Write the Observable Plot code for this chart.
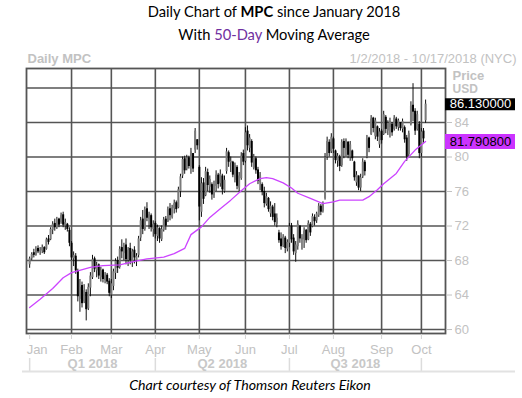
<!DOCTYPE html>
<html><head><meta charset="utf-8">
<script src="https://cdn.jsdelivr.net/npm/d3@7"></script>
<script src="https://cdn.jsdelivr.net/npm/@observablehq/plot@0.6"></script>
<style>
body{margin:0;background:#fff;width:522px;height:398px;overflow:hidden}
.title{font-family:Lato,"Open Sans",sans-serif;font-size:14.7px;color:#000;text-align:center;line-height:23px;height:46px;padding-left:26px;box-sizing:border-box;width:522px}
.caption{font-family:Lato,"Open Sans",sans-serif;font-style:italic;font-size:14.2px;text-align:center;line-height:18px;color:#000;padding-right:22px;box-sizing:border-box;width:522px}
#chart svg{display:block;font-family:"Liberation Sans",Arial,sans-serif !important}
</style></head><body>
<div class="title"><div>Daily Chart of <b>MPC</b> since January 2018</div><div>With <span style="color:#7030a0">50-Day</span> Moving Average</div></div>
<div id="chart"></div>
<div class="caption">Chart courtesy of Thomson Reuters Eikon</div>
<script>
// Trading-day OHLC (index 0 = 2 Jan 2018)
const open = [
67.5,68.2,68.9,68.6,69.4,69.0,69.1,69.5,69.3,70.5,
70.4,71.5,72.3,71.8,72.8,72.4,73.3,72.0,72.2,71.5,
70.0,68.2,68.5,66.8,63.5,65.1,63.2,64.3,62.4,64.8,
66.0,68.2,66.8,67.5,66.0,66.9,65.7,66.3,65.6,64.0,
65.0,66.5,68.0,67.2,69.5,68.8,69.8,68.0,69.4,67.8,
69.2,68.0,68.6,70.6,72.8,71.6,74.0,72.8,73.2,71.6,
72.3,70.8,71.7,70.4,71.5,72.8,72.5,74.0,73.0,74.0,
74.7,74.1,76.0,77.8,79.8,78.6,79.9,78.8,80.4,80.8,
82.0,78.8,73.6,77.0,75.5,78.2,76.5,76.8,75.5,76.6,
77.9,76.9,77.8,76.0,78.3,80.5,79.3,79.4,77.3,78.8,
76.4,77.5,80.4,79.5,83.0,81.0,81.8,78.7,79.8,78.5,
77.0,76.8,76.0,74.5,75.2,73.4,74.2,73.4,72.2,71.2,
70.5,69.7,70.6,69.3,70.0,72.0,70.6,68.8,69.6,72.0,
70.4,70.4,71.5,70.4,72.2,71.9,73.0,72.6,73.2,74.3,
73.7,75.2,80.0,81.7,80.6,82.1,80.7,79.5,80.0,79.0,
81.8,80.8,81.7,80.0,80.7,79.4,77.0,77.8,76.4,77.7,
79.4,80.0,82.2,82.6,84.5,82.4,83.5,81.4,83.0,82.6,
84.6,83.0,83.4,83.8,83.2,84.4,83.4,84.0,83.2,83.4,
82.2,80.3,83.8,86.0,85.3,83.2,83.8,80.4,83.0,84.2];
const high = [
68.4,68.9,69.3,69.6,69.7,69.5,69.8,69.6,70.6,70.9,
71.8,72.5,72.8,73.0,72.9,73.5,73.6,72.8,72.3,71.8,
70.2,69.0,68.8,67.0,65.8,65.5,65.2,64.6,65.3,66.6,
68.6,68.4,67.8,67.6,67.2,67.0,66.6,66.5,65.9,65.8,
67.0,68.2,68.4,69.6,70.4,70.0,70.5,69.5,70.0,69.3,
69.6,68.8,70.8,73.0,73.8,74.2,74.7,73.6,73.4,72.6,
72.5,72.1,71.8,72.0,73.0,73.1,74.2,74.6,74.4,75.0,
74.9,76.5,78.0,80.0,80.1,80.2,80.1,81.0,80.4,83.3,
82.0,79.0,77.6,77.5,78.8,78.6,77.8,77.0,77.2,78.4,
78.1,78.5,78.0,77.8,81.0,80.7,80.0,79.5,79.3,79.0,
78.2,80.5,80.8,83.4,83.6,82.6,82.0,80.3,80.0,78.8,
78.2,77.0,76.5,75.8,75.3,74.8,74.4,74.6,73.4,71.5,
71.2,71.0,70.8,70.4,72.3,72.3,71.0,70.2,72.6,72.0,
71.0,71.8,71.6,72.6,72.4,73.4,73.3,73.6,74.6,74.5,
74.8,80.4,82.3,82.0,82.7,82.3,80.8,80.4,80.2,82.0,
82.1,82.1,81.8,81.8,80.8,79.5,78.3,77.8,78.0,79.8,
79.6,82.5,82.3,84.8,84.6,84.5,83.6,83.3,83.2,85.3,
84.8,84.2,84.5,84.0,84.8,84.6,84.4,84.0,84.4,83.6,
82.5,83.0,86.4,88.5,85.6,85.3,84.1,83.3,83.3,86.6];
const low = [
67.1,68.0,68.3,68.5,68.8,68.6,68.8,68.7,69.2,69.8,
70.3,71.0,71.4,71.6,71.8,72.2,71.8,71.5,71.3,69.6,
68.0,67.3,66.4,63.2,62.0,62.5,63.0,61.0,62.2,63.8,
65.8,66.6,66.0,65.8,65.5,65.4,65.3,65.2,63.8,63.6,
64.5,65.8,66.5,67.0,68.2,68.0,67.5,67.3,67.5,67.2,
67.6,67.3,68.3,70.2,71.0,71.4,72.5,71.6,71.3,70.7,
70.5,70.2,70.0,70.2,71.3,71.5,72.4,72.6,72.8,73.4,
73.5,74.0,75.3,77.5,78.0,78.4,78.6,78.0,78.2,80.4,
80.8,72.6,73.0,74.5,75.4,76.0,75.8,75.0,75.2,76.0,
76.3,76.5,75.6,75.8,78.0,78.8,78.2,77.6,77.0,76.2,
75.9,77.3,79.0,79.3,80.7,80.5,78.8,78.5,78.0,76.8,
76.1,75.5,74.1,74.3,73.6,73.0,72.6,72.0,71.8,70.0,
69.2,69.5,68.8,69.0,69.5,70.0,68.6,67.8,69.2,70.0,
69.2,69.4,70.0,70.3,70.8,71.8,72.0,72.3,73.0,73.2,
73.5,75.0,79.6,80.0,80.4,80.4,79.2,78.8,78.3,78.8,
79.8,80.0,79.8,79.5,79.5,77.2,76.6,76.1,76.0,77.5,
77.8,79.8,80.5,82.5,82.8,82.0,81.8,81.0,81.5,82.5,
82.7,82.5,82.2,82.4,83.0,83.2,83.0,83.0,82.8,81.6,
79.5,80.0,83.6,84.1,82.5,83.0,79.8,80.0,81.6,83.9];
const close = [
68.2,68.7,68.6,69.3,69.0,69.2,69.5,68.9,70.4,70.1,
71.6,72.2,71.8,72.7,72.1,73.2,72.1,72.4,71.6,70.0,
68.3,68.6,66.8,63.8,64.9,63.0,64.5,62.3,64.9,66.2,
68.1,67.0,67.4,66.2,66.8,65.8,66.2,65.5,64.2,65.3,
66.7,67.9,67.1,69.3,69.0,69.7,68.1,69.2,68.0,69.0,
68.3,68.5,70.5,72.6,71.6,73.9,72.9,73.3,71.8,72.2,
71.0,71.8,70.5,71.6,72.7,72.0,73.9,73.2,74.1,74.6,
73.9,76.2,77.7,79.7,78.4,79.9,78.9,80.6,78.6,83.0,
81.3,74.2,76.9,75.1,78.3,76.7,77.4,75.6,76.8,77.9,
76.8,78.0,76.2,77.3,80.6,79.4,79.5,77.9,79.0,76.6,
77.8,80.1,79.4,82.8,81.3,82.2,79.3,80.0,78.4,77.2,
77.8,75.9,74.6,75.4,73.9,74.3,73.0,72.4,72.9,70.3,
69.6,70.7,69.4,70.1,71.9,70.4,69.0,69.8,72.2,70.5,
70.6,71.4,70.3,72.3,71.2,73.1,72.5,73.4,74.3,73.6,
74.6,79.9,81.8,80.4,82.3,80.9,79.6,80.1,78.9,81.7,
81.0,81.9,80.2,81.4,79.8,77.6,77.9,76.4,77.6,79.4,
78.3,82.1,81.0,84.4,83.3,84.2,82.3,82.9,81.9,84.9,
83.2,83.9,84.1,82.8,84.5,83.5,84.2,83.3,84.1,82.0,
80.0,82.7,85.9,85.2,83.0,84.9,80.4,82.9,82.1,86.13];

// 50-day moving average, read at sample trading days
const maIdx = [0,5,11,16,20,23,29,35,43,50,56,64,69,74,77,82,86,91,96,101,105,110,113,116,121,125,128,134,140,145,148,153,159,162,166,169,175,179,184,189];
const maVal = [62.55,63.5,64.75,66.0,66.6,66.8,67.2,67.4,67.5,67.9,68.2,68.4,68.8,69.4,71.0,71.9,73.0,74.0,75.0,76.1,76.9,77.5,77.6,77.5,77.0,76.4,75.8,75.2,74.6,74.8,75.0,75.0,75.0,75.4,76.2,76.9,78.1,79.5,80.8,81.7908];

const months = ["Jan","Feb","Mar","Apr","May","Jun","Jul","Aug","Sep","Oct"];
const monthStart = [0,20,39,60,81,103,124,145,168,187];
const quarters = ["Q1 2018","Q2 2018","Q3 2018"];
const quarterStart = [0,60,124];
const quarterEnd = [60,124,187];
const yGrid = [60,64,68,72,76,80,84,88];
const yLabels = [60,64,68,72,76,80,84];
const xDomain = [-1.5,198.5];
const yDomain = [59.54,90.26];
const header = "Daily MPC";
const dateRange = "1/2/2018 - 10/17/2018 (NYC)";

const rows = close.map((c,i)=>({i, o:open[i], h:high[i], l:low[i], c}));
const ma = maIdx.map((i,k)=>({i, v:maVal[k]}));
const lastClose = close[close.length-1];
const lastMA = maVal[maVal.length-1];

const W=522, H=330, mT=22, mR=77, mB=43, mL=26;
const fW = W-mL-mR, fH = H-mT-mB;
const grid = "#555";
const lite = "#c2c2c2";
const T = {lineAnchor: "middle"};

const chart = Plot.plot({
  width: W, height: H,
  marginTop: mT, marginRight: mR, marginBottom: mB, marginLeft: mL,
  x: {domain: xDomain, axis: null},
  y: {domain: yDomain, axis: null},
  style: {fontFamily: "Liberation Sans, Arial, sans-serif", fontSize: "13px", background: "white", overflow: "visible"},
  marks: [
    Plot.ruleY(yGrid, {stroke: grid, strokeWidth: 1.6}),
    Plot.ruleX(monthStart.slice(1), {stroke: grid, strokeWidth: 1.6}),
    Plot.frame({stroke: grid, strokeWidth: 1.8}),
    Plot.ruleX(rows, {x: "i", y1: "l", y2: "h", stroke: "#111", strokeWidth: 1}),
    Plot.ruleX(rows.filter(d=>d.c>=d.o), {x: "i", y1: "o", y2: "c", stroke: "#7a7a7a", strokeWidth: 2}),
    Plot.ruleX(rows.filter(d=>d.c<d.o), {x: "i", y1: "o", y2: "c", stroke: "#000", strokeWidth: 2}),
    Plot.line(ma, {x: "i", y: "v", stroke: "#cc44ff", strokeWidth: 1.3}),
    Plot.axisY({anchor: "right", ticks: yLabels, tickSize: 6, tickPadding: 3, stroke: lite, fill: lite, fontSize: 13, label: null}),
    // month ticks & labels
    Plot.ruleX(monthStart, {insetTop: fH-5, dy: 6, stroke: "#d4d4d4"}),
    Plot.text([months[0]], {...T, x: [monthStart[0]], frameAnchor: "bottom", dy: 16, dx: -3, textAnchor: "start", fill: lite, fontSize: 13}),
    Plot.text(months.slice(1), {...T, x: monthStart.slice(1), frameAnchor: "bottom", dy: 16, textAnchor: "middle", fill: lite, fontSize: 13}),
    // quarter band
    Plot.ruleX(quarterStart.concat([quarterEnd[quarterEnd.length-1]]), {insetTop: fH-13, dy: 38, stroke: "#dcdcdc", strokeWidth: 1.5}),
    Plot.ruleY([yDomain[0]], {dy: 38, insetLeft: -4, insetRight: -70, stroke: "#e2e2e2", strokeWidth: 2}),
    Plot.text(quarters, {...T, x: quarters.map((q,k)=>(quarterStart[k]+quarterEnd[k])/2), frameAnchor: "bottom", dy: 30, textAnchor: "middle", fill: "#c8c8c8", fontWeight: "bold", fontSize: 13}),
    // header
    Plot.text([header], {...T, frameAnchor: "top-left", dx: 1, dy: -10, textAnchor: "start", fill: lite, fontWeight: "bold", fontSize: 13}),
    Plot.text([dateRange], {...T, frameAnchor: "top-right", dx: 71, dy: -10, textAnchor: "end", fill: lite, fontSize: 13}),
    Plot.text(["Price"], {...T, frameAnchor: "top-right", dx: 7, dy: 7, textAnchor: "start", fill: lite, fontWeight: "bold", fontSize: 13}),
    Plot.text(["USD"], {...T, frameAnchor: "top-right", dx: 7, dy: 21, textAnchor: "start", fill: lite, fontWeight: "bold", fontSize: 12}),
    // last value boxes
    Plot.ruleY([lastClose], {insetLeft: fW, insetRight: -70, stroke: "#000", strokeWidth: 12}),
    Plot.text([lastClose], {...T, y: d=>d, frameAnchor: "right", dx: 35, textAnchor: "middle", text: d=>d.toFixed(6), fill: "#fff", fontSize: 13}),
    Plot.ruleY([lastMA], {insetLeft: fW, insetRight: -70, stroke: "#cc33ff", strokeWidth: 15}),
    Plot.text([lastMA], {...T, y: d=>d, frameAnchor: "right", dx: 35, textAnchor: "middle", text: d=>d.toFixed(6), fill: "#000", fontSize: 13})
  ]
});
document.getElementById("chart").appendChild(chart);
</script>
</body></html>
